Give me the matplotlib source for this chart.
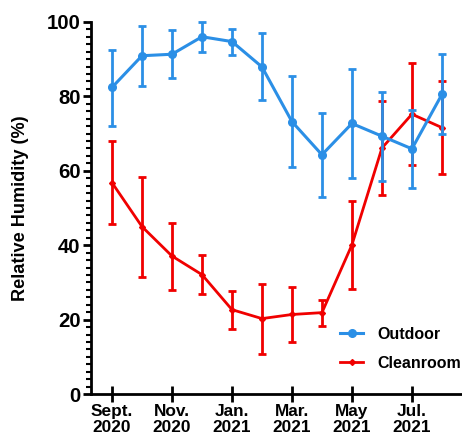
import matplotlib
matplotlib.use("Agg")
import matplotlib.pyplot as plt
from matplotlib.ticker import MultipleLocator
from matplotlib.lines import Line2D

months = ["Sept.\n2020", "Oct.\n2020", "Nov.\n2020", "Dec.\n2020", "Jan.\n2021", "Feb.\n2021",
          "Mar.\n2021", "Apr.\n2021", "May\n2021", "Jun.\n2021", "Jul.\n2021", "Aug.\n2021"]
outdoor = [82.4, 90.9, 91.3, 96.0, 94.7, 87.9, 73.2, 64.3, 72.7, 69.3, 65.9, 80.5]
outdoor_hi = [92.5, 99.0, 97.8, 99.9, 98.1, 96.9, 85.4, 75.6, 87.4, 81.2, 76.3, 91.4]
outdoor_lo = [72.1, 82.9, 84.8, 91.8, 91.1, 78.9, 61.1, 53.0, 58.0, 57.3, 55.5, 69.8]
clean = [56.8, 45.0, 37.1, 32.1, 22.7, 20.3, 21.4, 21.9, 40.1, 66.1, 75.2, 71.6]
clean_hi = [68.0, 58.4, 46.0, 37.4, 27.7, 29.7, 28.8, 25.4, 51.8, 78.8, 88.9, 84.1]
clean_lo = [45.7, 31.5, 28.1, 26.8, 17.5, 10.8, 14.0, 18.3, 28.2, 53.6, 61.6, 59.2]

plt.rcParams['font.family'] = ['Liberation Sans', 'DejaVu Sans']
plt.rcParams['font.weight'] = 'bold'

fig = plt.figure(figsize=(4.62, 4.37), dpi=100)
ax = fig.add_axes([0.197, 0.098, 0.803, 0.852])

x = list(range(len(months)))
blue = '#2B8FE6'
red = '#F00000'

def err(v, lo, hi):
    return [[a - b for a, b in zip(v, lo)], [c - a for a, c in zip(v, hi)]]

ax.errorbar(x, clean, yerr=err(clean, clean_lo, clean_hi), color=red, lw=2, marker='D', ms=3,
            capsize=2.7, capthick=2, elinewidth=2, zorder=3, clip_on=False)
ax.errorbar(x, outdoor, yerr=err(outdoor, outdoor_lo, outdoor_hi), color=blue, lw=2.2, marker='o', ms=5.5,
            capsize=2.7, capthick=2, elinewidth=2, zorder=4, clip_on=False)

ax.set_xlim(-0.7, 11.67)
ax.set_ylim(0, 100)
ax.set_xticks(x[::2])
ax.set_xticklabels(months[::2], fontsize=12.4, fontweight='bold', linespacing=1.08)
ax.yaxis.set_major_locator(MultipleLocator(20))
ax.yaxis.set_minor_locator(MultipleLocator(2))
ax.tick_params(axis='y', which='major', length=6, width=2, labelsize=14.7, pad=1.5)
ax.tick_params(axis='y', which='minor', length=3.5, width=1.5)
ax.tick_params(axis='x', which='major', direction='inout', length=12, width=2, pad=1)
for lbl in ax.get_yticklabels():
    lbl.set_fontweight('bold')
ax.set_ylabel('Relative Humidity (%)', fontsize=13.1, fontweight='bold')
ax.yaxis.set_label_coords(-0.168, 0.5)

for s in ['top', 'right']:
    ax.spines[s].set_visible(False)
for s in ['left', 'bottom']:
    ax.spines[s].set_linewidth(2)

handles = [Line2D([], [], color=blue, lw=2.2, marker='o', ms=5.5),
           Line2D([], [], color=red, lw=2, marker='D', ms=3)]
fig.legend(handles, ['Outdoor', 'Cleanroom'], loc='upper left',
           bbox_to_anchor=(340 / 462, 1 - 327 / 437), frameon=False, borderpad=0, borderaxespad=0,
           prop={'weight': 'bold', 'size': 11.5}, handlelength=1.45, handletextpad=0.9, labelspacing=0.85)

fig.savefig('out.png', dpi=100)
